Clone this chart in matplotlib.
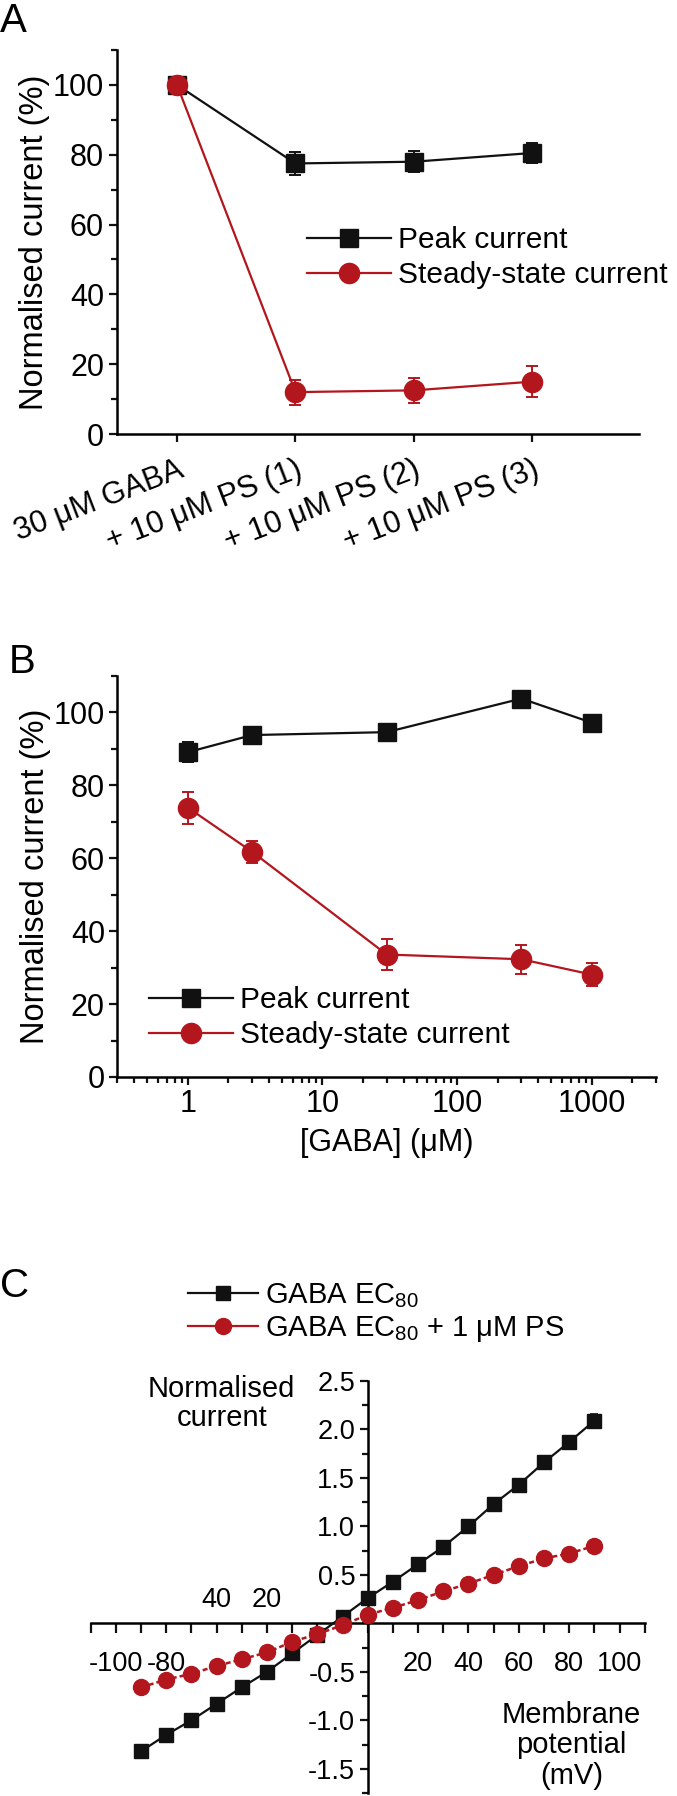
import numpy as np
import matplotlib
matplotlib.use('Agg')
import matplotlib.pyplot as plt
from matplotlib.lines import Line2D
from matplotlib.ticker import MultipleLocator, LogLocator, NullFormatter, FixedLocator, FixedFormatter

plt.rcParams['font.family'] = ['Liberation Sans', 'DejaVu Sans']
plt.rcParams['mathtext.fontset'] = 'custom'
plt.rcParams['mathtext.rm'] = 'Liberation Sans'
plt.rcParams['axes.unicode_minus'] = False
plt.rcParams['axes.linewidth'] = 1.8

BLACK = '#111111'
RED = '#b3161d'

# panel A data
a_labels = ['30 μM GABA', '+ 10 μM PS (1)', '+ 10 μM PS (2)', '+ 10 μM PS (3)']
a_peak = [100, 77.5, 78.0, 80.5]
a_peak_err = [1.0, 3.3, 3.0, 2.9]
a_steady = [100, 12.0, 12.5, 15.0]
a_steady_err = [1.0, 3.6, 3.6, 4.4]

# panel B data
b_gaba = [1, 3, 30, 300, 1000]
b_peak = [89.1, 93.8, 94.6, 103.8, 97.2]
b_peak_err = [2.7, 1.0, 1.0, 1.5, 1.0]
b_steady = [73.9, 61.8, 33.6, 32.3, 28.1]
b_steady_err = [4.4, 3.0, 4.2, 4.0, 3.2]

# panel C data
c_mv = [-90, -80, -70, -60, -50, -40, -30, -20, -10, 0, 10, 20, 30, 40, 50, 60, 70, 80, 90]
c_ctrl = [-1.32, -1.15, -1.0, -0.83, -0.66, -0.50, -0.31, -0.12, 0.07, 0.26, 0.43, 0.61,
          0.79, 1.00, 1.23, 1.43, 1.66, 1.87, 2.09]
c_ctrl_err = [0.03, 0.03, 0.02, 0.02, 0.02, 0.02, 0.02, 0.02, 0.03, 0.02, 0.02, 0.02,
              0.02, 0.02, 0.02, 0.03, 0.03, 0.03, 0.07]
c_ps = [-0.66, -0.58, -0.52, -0.44, -0.37, -0.30, -0.19, -0.11, -0.02, 0.09, 0.16, 0.24,
        0.33, 0.41, 0.50, 0.59, 0.67, 0.72, 0.80]
c_ps_err = [0.03, 0.03, 0.02, 0.02, 0.02, 0.02, 0.02, 0.02, 0.03, 0.02, 0.02, 0.02,
            0.02, 0.02, 0.02, 0.02, 0.03, 0.04, 0.05]
c_up_ticks = [-60, -40]
c_up_labels = ['40', '20']

W, H = 677, 1796
fig = plt.figure(figsize=(W / 100, H / 100), dpi=100)


def box(left, top, right, bottom):
    return [left / W, 1 - bottom / H, (right - left) / W, (bottom - top) / H]


def style_ticks(ax, fs):
    ax.tick_params(axis='both', which='major', direction='out', length=6, width=1.6,
                   labelsize=fs, pad=3, color=BLACK)
    ax.tick_params(axis='both', which='minor', direction='out', length=4, width=1.6,
                   color=BLACK)


def handles(ms_sq, ms_ci, red_ls='-'):
    return [Line2D([], [], color=BLACK, marker='s', ms=ms_sq, lw=1.6),
            Line2D([], [], color=RED, marker='o', ms=ms_ci, lw=1.6, ls=red_ls)]


# ---------- A ----------
axA = fig.add_axes(box(116.6, 50, 639, 434))
xa = np.arange(len(a_labels))
axA.errorbar(xa, a_peak, yerr=a_peak_err, color=BLACK, marker='s', ms=13, lw=1.6,
             capsize=4, elinewidth=1.4, capthick=1.4, zorder=3)
axA.errorbar(xa, a_steady, yerr=a_steady_err, color=RED, marker='o', ms=14.5, lw=1.6,
             capsize=4, elinewidth=1.4, capthick=1.4, zorder=4)
axA.set_xlim(-0.51, 3.9)
axA.set_ylim(0, 110)
axA.set_xticks(xa)
axA.set_xticklabels(a_labels, rotation=21, ha='right', rotation_mode='anchor', fontsize=16)
axA.yaxis.set_major_locator(MultipleLocator(20))
axA.yaxis.set_minor_locator(MultipleLocator(10))
style_ticks(axA, 22)
axA.tick_params(axis='x', pad=9)
axA.spines['top'].set_visible(False)
axA.spines['right'].set_visible(False)
axA.set_ylabel('Normalised current (%)', fontsize=23.5, labelpad=2)
axA.legend(handles(13, 14.5), ['Peak current', 'Steady-state current'],
           loc='upper left', bbox_to_anchor=((307 - 116.6) / 522.4, 1 - (226 - 50) / 384),
           frameon=False, fontsize=21.5, handlelength=2.8, handletextpad=0.25,
           labelspacing=0.25, borderaxespad=0, borderpad=0)
fig.text(0 / W, 1 - 21 / H, 'A', fontsize=29, va='center', ha='left')

# ---------- B ----------
axB = fig.add_axes(box(117.4, 676, 656, 1077))
axB.errorbar(b_gaba, b_peak, yerr=b_peak_err, color=BLACK, marker='s', ms=13, lw=1.6,
             capsize=4, elinewidth=1.4, capthick=1.4, zorder=3)
axB.errorbar(b_gaba, b_steady, yerr=b_steady_err, color=RED, marker='o', ms=14.5, lw=1.6,
             capsize=4, elinewidth=1.4, capthick=1.4, zorder=4)
axB.set_xscale('log')
axB.set_xlim(0.3, 3000)
axB.set_ylim(0, 110)
axB.xaxis.set_major_locator(FixedLocator([1, 10, 100, 1000]))
axB.xaxis.set_major_formatter(FixedFormatter(['1', '10', '100', '1000']))
axB.xaxis.set_minor_locator(LogLocator(base=10, subs=np.arange(2, 10), numticks=20))
axB.xaxis.set_minor_formatter(NullFormatter())
axB.yaxis.set_major_locator(MultipleLocator(20))
axB.yaxis.set_minor_locator(MultipleLocator(10))
style_ticks(axB, 22)
axB.spines['top'].set_visible(False)
axB.spines['right'].set_visible(False)
axB.set_ylabel('Normalised current (%)', fontsize=23.5, labelpad=2)
axB.set_xlabel('[GABA] (μM)', fontsize=22, labelpad=6)
axB.legend(handles(13, 14.5), ['Peak current', 'Steady-state current'],
           loc='upper left', bbox_to_anchor=((149 - 117.4) / 538.6, 1 - (986 - 676) / 401),
           frameon=False, fontsize=21.5, handlelength=2.8, handletextpad=0.25,
           labelspacing=0.25, borderaxespad=0, borderpad=0)
fig.text(9 / W, 1 - 662 / H, 'B', fontsize=29, va='center', ha='left')

# ---------- C ----------
axC = fig.add_axes(box(90.7, 1381, 644.7, 1793))
axC.errorbar(c_mv, c_ctrl, yerr=c_ctrl_err, color=BLACK, marker='s', ms=10.5, lw=1.6,
             capsize=3, elinewidth=1.2, capthick=1.2, zorder=3)
axC.errorbar(c_mv, c_ps, yerr=c_ps_err, color=RED, marker='o', ms=11.5, lw=1.8,
             ls=(0, (2, 1.2)), capsize=3, elinewidth=1.2, capthick=1.2, zorder=4)
axC.set_xlim(-110, 110)
axC.set_ylim(-1.75, 2.5)
axC.spines['left'].set_position(('data', 0))
axC.spines['bottom'].set_position(('data', 0))
axC.spines['top'].set_visible(False)
axC.spines['right'].set_visible(False)
axC.xaxis.set_major_locator(FixedLocator([-100, -80, 20, 40, 60, 80, 100]))
axC.xaxis.set_minor_locator(MultipleLocator(10))
axC.yaxis.set_major_locator(FixedLocator([-1.5, -1.0, -0.5, 0.5, 1.0, 1.5, 2.0, 2.5]))
axC.yaxis.set_major_formatter(FixedFormatter(['-1.5', '-1.0', '-0.5', '0.5', '1.0', '1.5', '2.0', '2.5']))
axC.yaxis.set_minor_locator(MultipleLocator(0.25))
style_ticks(axC, 19.5)
axC.tick_params(axis='x', which='both', length=7)
axC.tick_params(axis='x', pad=13)
for v, s in zip(c_up_ticks, c_up_labels):
    axC.text(v, 0.11, s, fontsize=19.5, ha='center', va='bottom')
axC.text(-58, 2.27, 'Normalised\ncurrent', fontsize=21, ha='center', va='center',
         linespacing=1.05)
axC.text(81, -1.26, 'Membrane\npotential\n(mV)', fontsize=21, ha='center', va='center',
         linespacing=1.1)
fig.legend(handles(10.5, 11.5), ['GABA EC$_{80}$', 'GABA EC$_{80}$ + 1 μM PS'],
           loc='upper left', bbox_to_anchor=(188 / W, 1 - 1281 / H),
           frameon=False, fontsize=21, handlelength=2.4, handletextpad=0.25,
           labelspacing=0.15, borderaxespad=0, borderpad=0)
fig.text(0 / W, 1 - 1286 / H, 'C', fontsize=29, va='center', ha='left')

fig.savefig('out.png', dpi=100)
